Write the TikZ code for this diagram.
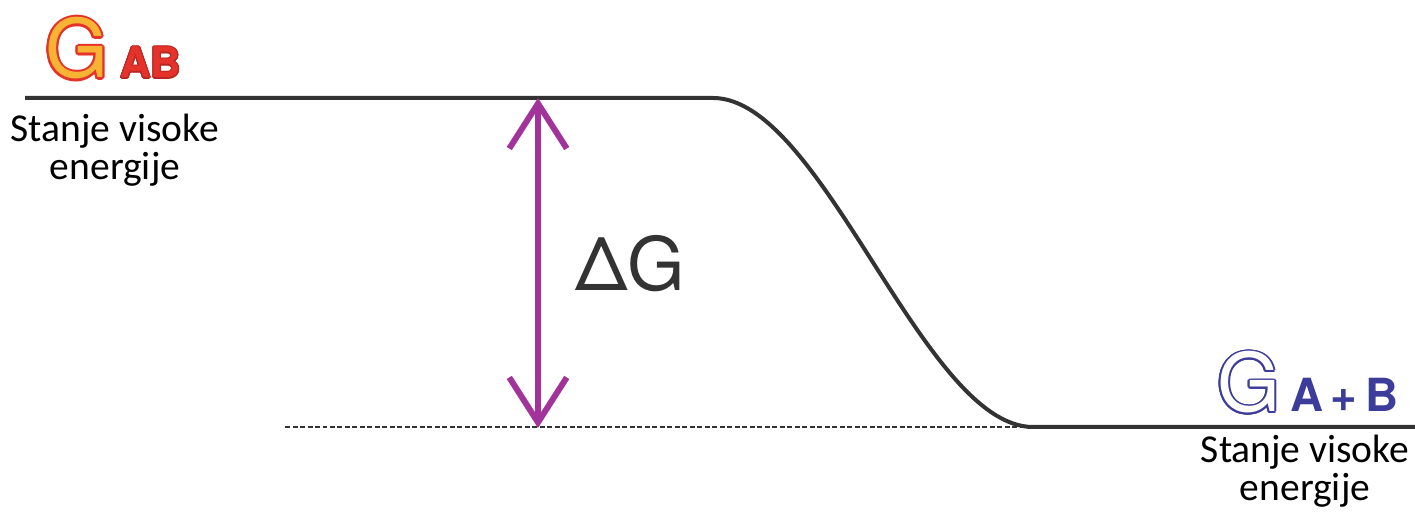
\documentclass[tikz,border=0pt]{standalone}
\usepackage{fontspec}
\setmainfont{Carlito}
\newfontfamily\herosfont{TeX Gyre Heros}
\usepackage{contour}
\usetikzlibrary{arrows.meta}
\definecolor{curvegray}{HTML}{333333}
\definecolor{dgpurple}{HTML}{A1339B}
\definecolor{gabred}{HTML}{E5322A}
\definecolor{gabyellow}{HTML}{F6B334}
\definecolor{gabblue}{HTML}{3C3C9A}
\contourlength{1.2pt}

\begin{document}
\begin{tikzpicture}[
  x=0.02cm, y=0.02cm,
  level/.style={draw=curvegray, line width=0.08cm},
  dashlevel/.style={draw=curvegray, line width=0.03cm, dash pattern=on 0.1cm off 0.05cm},
  dgarrow/.style={draw=dgpurple, line width=0.12cm,
    {Straight Barb[length=0.9cm,width=1.15cm]}-{Straight Barb[length=0.9cm,width=1.15cm]}},
  statetext/.style={font=\fontsize{22.5}{21.5}\selectfont, align=center, inner sep=0pt},
  bigG/.style={font=\herosfont\fontsize{46}{46}\selectfont, inner sep=0pt, anchor=base west}
]
  \useasboundingbox (0,0) rectangle (1415,519);

  % energy levels
  \coordinate (hiL) at (25,421);
  \coordinate (hiR) at (713,421);
  \coordinate (loL) at (1033,92);
  \coordinate (loR) at (1415,92);
  \coordinate (dashL) at (285,92);
  \coordinate (arrTop) at (538,421);
  \coordinate (arrBot) at (538,91);

  \draw[dashlevel] (dashL) -- (loL);
  \draw[level] (hiL) -- (hiR) .. controls (823,421) and (923,92) .. (loL) -- (loR);
  \draw[dgarrow] (arrBot) -- (arrTop);

  \node[font=\herosfont\fontsize{42}{42}\selectfont, text=curvegray] (dG) at (630,255) {ΔG};

  % labels of the two states
  \node[bigG] (gAB) at (45,441) {\contour{gabred}{\textcolor{gabyellow}{G}}};
  \node[font=\herosfont\bfseries\fontsize{24}{24}\selectfont, inner sep=0pt, anchor=base west]
    (gABsub) at (120,441) {\contourlength{0.6pt}\contour{gabred!80!black}{\textcolor{gabred}{AB}}};
  \node[statetext] (hiText) at (115,369) {Stanje visoke\\energije};

  \node[bigG] (gApB) at (1217,107) {\contourlength{1pt}\contour{gabblue}{\textcolor{white}{G}}};
  \node[font=\herosfont\bfseries\fontsize{26}{26}\selectfont, inner sep=0pt, anchor=base west, text=gabblue]
    (gApBsub) at (1290,107) {A\,+\,B};
  \node[statetext] (loText) at (1305,48) {Stanje visoke\\energije};
\end{tikzpicture}
\end{document}
